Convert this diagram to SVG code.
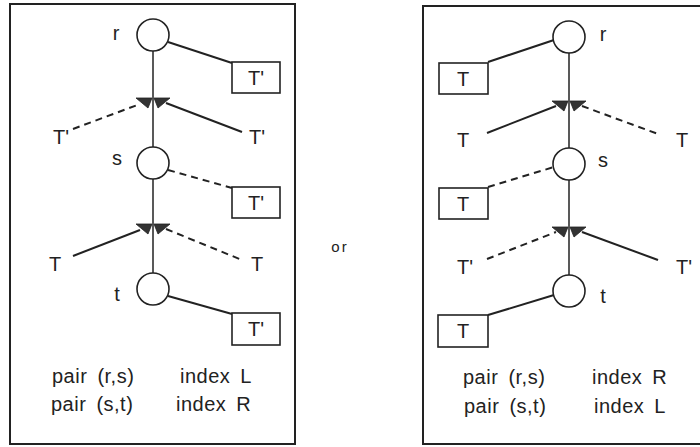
<svg xmlns="http://www.w3.org/2000/svg" width="700" height="447" viewBox="0 0 700 447">
  <style>
    .panel { fill: #ffffff; stroke: #222; stroke-width: 2; }
    .node { fill: #ffffff; stroke: #222; stroke-width: 1.6; }
    .box { fill: #ffffff; stroke: #222; stroke-width: 1.6; }
    .edge { fill: none; stroke: #222; stroke-width: 2; }
    .dash { fill: none; stroke: #222; stroke-width: 2; stroke-dasharray: 7 5; }
    .spine { fill: none; stroke: #222; stroke-width: 1.5; }
    .head { fill: #333; stroke: #222; stroke-width: 0.8; }
    .lbl { font-family: "Liberation Sans", Arial, sans-serif; font-size: 20px; fill: #222; }
    .cap { font-family: "Liberation Sans", Arial, sans-serif; font-size: 20px; fill: #222; letter-spacing: 0.5px; word-spacing: 4px; }
  </style>
  <defs>
    <!-- bow-tie of two arrowheads meeting at a spine junction -->
    <g id="junction">
      <polygon class="head" points="-17,-2 -1,-2 -5,8"/>
      <polygon class="head" points="1,-2 17,-2 5,8"/>
    </g>
  </defs>

  <rect width="700" height="447" fill="#ffffff"/>

  <!-- left panel -->
  <rect id="panel-left" class="panel" x="10" y="4" width="285" height="440"/>
  <!-- right panel -->
  <rect id="panel-right" class="panel" x="423" y="6" width="290" height="438"/>

  <g id="connectors">
    <!-- left panel -->
    <line class="spine" x1="153" y1="51" x2="153" y2="147"/>
    <line class="spine" x1="153" y1="179" x2="153" y2="273"/>
    <line class="edge" x1="168" y1="42" x2="232" y2="63"/>
    <line class="dash" x1="73" y1="129" x2="140" y2="104"/>
    <line class="edge" x1="166" y1="103" x2="242" y2="132"/>
    <line class="dash" x1="168" y1="170" x2="232" y2="188"/>
    <line class="edge" x1="73" y1="256" x2="140" y2="230"/>
    <line class="dash" x1="166" y1="229" x2="242" y2="260"/>
    <line class="edge" x1="168" y1="296" x2="232" y2="314"/>
    <use href="#junction" x="153" y="100"/>
    <use href="#junction" x="153" y="226"/>

    <!-- right panel -->
    <line class="spine" x1="569" y1="53" x2="569" y2="148"/>
    <line class="spine" x1="569" y1="180" x2="569" y2="275"/>
    <line class="edge" x1="488" y1="62" x2="554" y2="40"/>
    <line class="edge" x1="487" y1="133" x2="556" y2="106"/>
    <line class="dash" x1="582" y1="106" x2="658" y2="134"/>
    <line class="dash" x1="488" y1="187" x2="554" y2="167"/>
    <line class="dash" x1="487" y1="259" x2="556" y2="232"/>
    <line class="edge" x1="582" y1="232" x2="658" y2="260"/>
    <line class="edge" x1="488" y1="315" x2="554" y2="295"/>
    <use href="#junction" x="569" y="103"/>
    <use href="#junction" x="569" y="229"/>
  </g>

  <!-- left panel nodes -->
  <g id="left-r">
    <circle class="node" cx="153" cy="35" r="16"/>
    <text class="lbl" x="116" y="40" text-anchor="middle">r</text>
  </g>
  <g id="left-r-subtree">
    <rect class="box" x="232" y="62" width="48" height="31"/>
    <text class="lbl" x="256" y="85" text-anchor="middle">T'</text>
  </g>
  <g id="left-upper-inputs">
    <text class="lbl" x="61" y="144" text-anchor="middle">T'</text>
    <text class="lbl" x="257" y="144" text-anchor="middle">T'</text>
  </g>
  <g id="left-s">
    <circle class="node" cx="153" cy="163" r="16"/>
    <text class="lbl" x="117" y="165" text-anchor="middle">s</text>
  </g>
  <g id="left-s-subtree">
    <rect class="box" x="232" y="187" width="48" height="31"/>
    <text class="lbl" x="256" y="210" text-anchor="middle">T'</text>
  </g>
  <g id="left-lower-inputs">
    <text class="lbl" x="55" y="271" text-anchor="middle">T</text>
    <text class="lbl" x="257" y="271" text-anchor="middle">T</text>
  </g>
  <g id="left-t">
    <circle class="node" cx="153" cy="289" r="16"/>
    <text class="lbl" x="117" y="301" text-anchor="middle">t</text>
  </g>
  <g id="left-t-subtree">
    <rect class="box" x="232" y="313" width="48" height="32"/>
    <text class="lbl" x="256" y="336" text-anchor="middle">T'</text>
  </g>
  <g id="left-caption">
    <text class="cap" x="52" y="383">pair (r,s)</text>
    <text class="cap" x="180" y="383">index L</text>
    <text class="cap" x="51" y="411">pair (s,t)</text>
    <text class="cap" x="176" y="411">index R</text>
  </g>

  <text class="cap" x="340" y="252" text-anchor="middle" style="font-size:15px;letter-spacing:2px">or</text>

  <!-- right panel nodes -->
  <g id="right-r">
    <circle class="node" cx="569" cy="37" r="16"/>
    <text class="lbl" x="603" y="41" text-anchor="middle">r</text>
  </g>
  <g id="right-r-subtree">
    <rect class="box" x="439" y="63" width="49" height="31"/>
    <text class="lbl" x="463" y="86" text-anchor="middle">T</text>
  </g>
  <g id="right-upper-inputs">
    <text class="lbl" x="463" y="147" text-anchor="middle">T</text>
    <text class="lbl" x="682" y="147" text-anchor="middle">T</text>
  </g>
  <g id="right-s">
    <circle class="node" cx="569" cy="164" r="16"/>
    <text class="lbl" x="603" y="167" text-anchor="middle">s</text>
  </g>
  <g id="right-s-subtree">
    <rect class="box" x="439" y="188" width="49" height="31"/>
    <text class="lbl" x="463" y="211" text-anchor="middle">T</text>
  </g>
  <g id="right-lower-inputs">
    <text class="lbl" x="465" y="274" text-anchor="middle">T'</text>
    <text class="lbl" x="684" y="274" text-anchor="middle">T'</text>
  </g>
  <g id="right-t">
    <circle class="node" cx="569" cy="291" r="16"/>
    <text class="lbl" x="603" y="303" text-anchor="middle">t</text>
  </g>
  <g id="right-t-subtree">
    <rect class="box" x="438" y="315" width="50" height="32"/>
    <text class="lbl" x="463" y="338" text-anchor="middle">T</text>
  </g>
  <g id="right-caption">
    <text class="cap" x="463" y="384">pair (r,s)</text>
    <text class="cap" x="592" y="384">index R</text>
    <text class="cap" x="464" y="413">pair (s,t)</text>
    <text class="cap" x="594" y="413">index L</text>
  </g>
</svg>
